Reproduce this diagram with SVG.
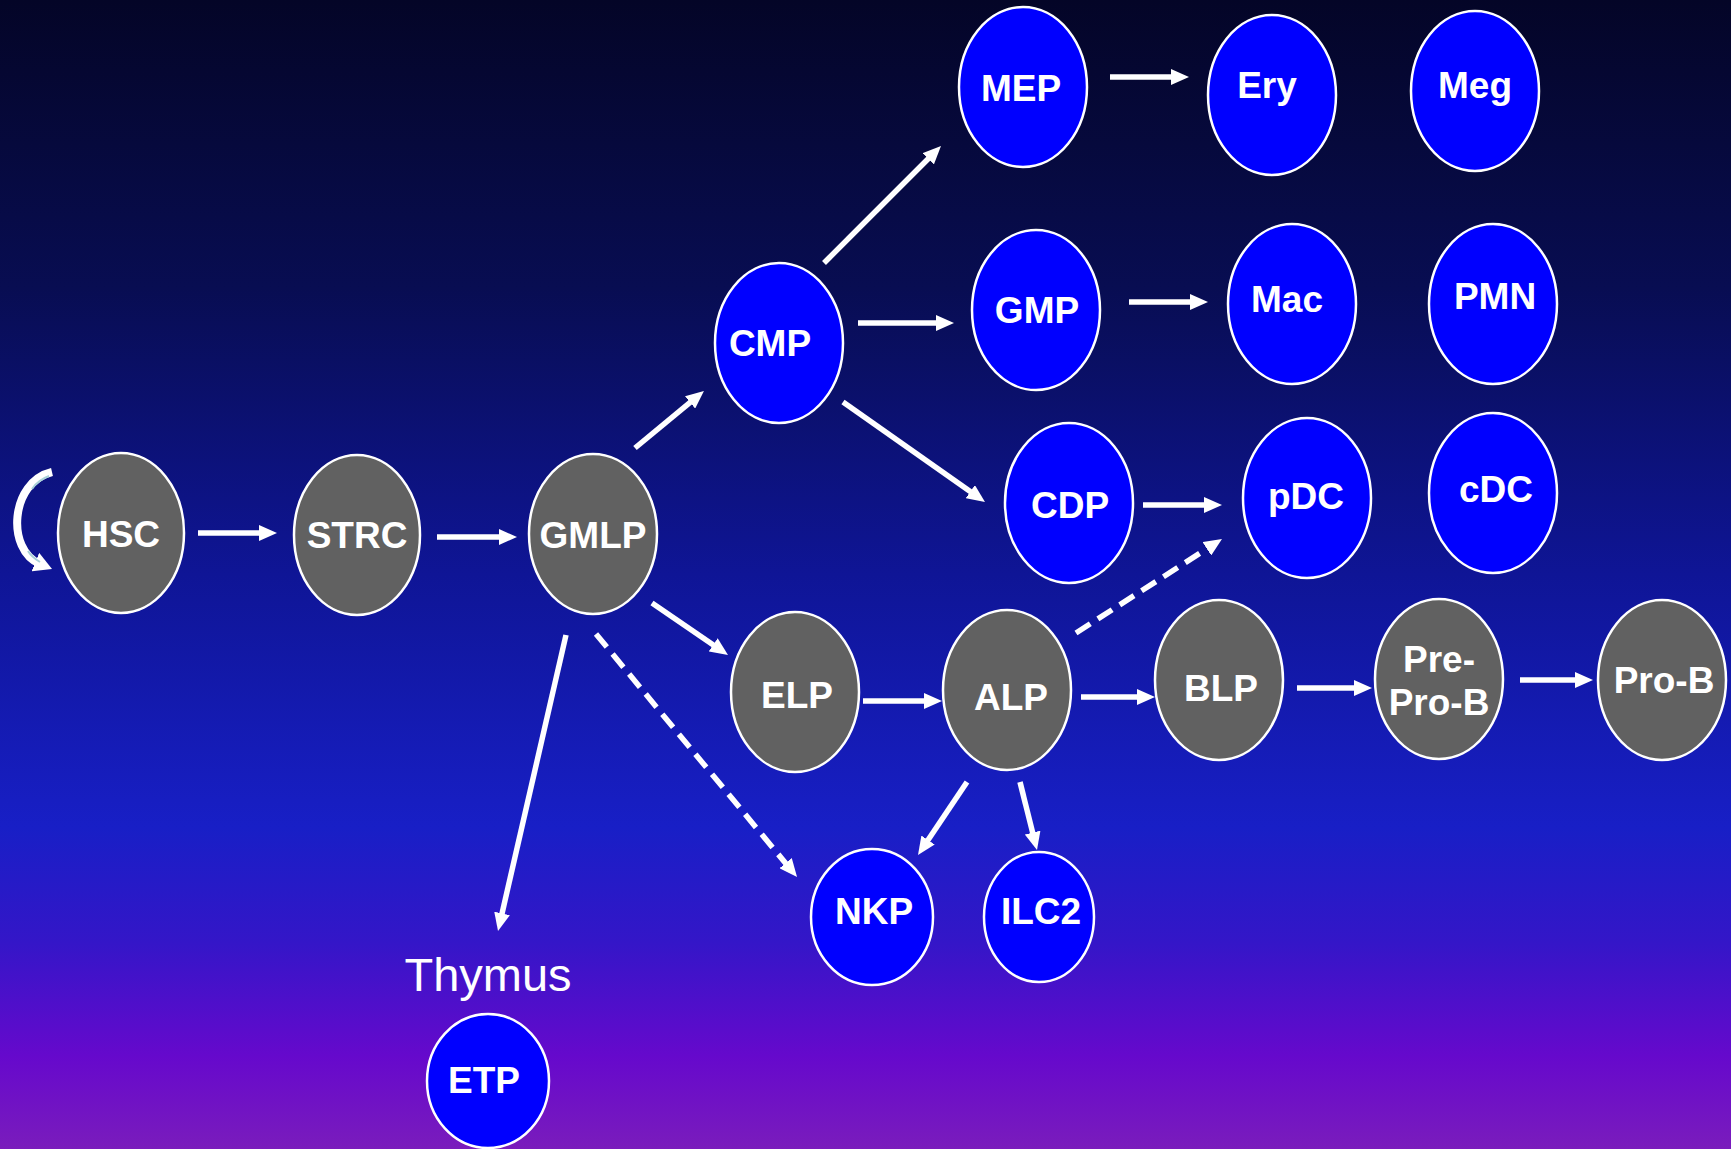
<svg xmlns="http://www.w3.org/2000/svg" width="1731" height="1149" viewBox="0 0 1731 1149">
<defs>
<linearGradient id="bg" x1="0" y1="0" x2="0" y2="1">
<stop offset="0" stop-color="#040527"/>
<stop offset="0.25" stop-color="#080d52"/>
<stop offset="0.5" stop-color="#0f1596"/>
<stop offset="0.72" stop-color="#181fc6"/>
<stop offset="0.82" stop-color="#3416c8"/>
<stop offset="0.92" stop-color="#6609cc"/>
<stop offset="1" stop-color="#7a1cbc"/>
</linearGradient>
<marker id="ah" viewBox="0 0 18 16" refX="6" refY="8" markerWidth="18" markerHeight="16" markerUnits="userSpaceOnUse" orient="auto">
<path d="M0,0 L18,8 L0,16 z" fill="#ffffff"/>
</marker>
<marker id="ahs" viewBox="0 0 18 20" refX="5" refY="10" markerWidth="18" markerHeight="20" markerUnits="userSpaceOnUse" orient="auto">
<path d="M0,0 L18,10 L0,20 z" fill="#ffffff"/>
</marker>
</defs>
<style>
.g{fill:#616161;stroke:#ffffff;stroke-width:2.5}
.b{fill:#0000ff;stroke:#ffffff;stroke-width:2.5}
.t{font-family:"Liberation Sans",Arial,Helvetica,sans-serif;font-weight:bold;font-size:37px;fill:#ffffff;text-anchor:middle}
.c{stroke:#ffffff;stroke-width:5.5;fill:none;marker-end:url(#ah)}
.d{stroke-dasharray:17 9}
</style>
<rect x="0" y="0" width="1731" height="1149" fill="url(#bg)"/>

<g id="connectors">
<line class="c" x1="198" y1="533" x2="265" y2="533"/>
<line class="c" x1="437" y1="537" x2="505" y2="537"/>
<line class="c" x1="635" y1="448" x2="694.7" y2="398.6"/>
<line class="c" x1="824" y1="263" x2="932.5" y2="154.5"/>
<line class="c" x1="858" y1="323" x2="942" y2="323"/>
<line class="c" x1="843" y1="402" x2="975.2" y2="495.1"/>
<line class="c" x1="1110" y1="77" x2="1177" y2="77"/>
<line class="c" x1="1129" y1="302" x2="1196" y2="302"/>
<line class="c" x1="1143" y1="505" x2="1210" y2="505"/>
<line class="c d" x1="1076" y1="633" x2="1211.9" y2="545.5"/>
<line class="c" x1="652" y1="603" x2="718.1" y2="648.2"/>
<line class="c" x1="566" y1="635" x2="500.7" y2="919.3"/>
<line class="c d" x1="596" y1="634" x2="789.4" y2="867.8"/>
<line class="c" x1="863" y1="701" x2="930" y2="701"/>
<line class="c" x1="1081" y1="697" x2="1143" y2="697"/>
<line class="c" x1="1297" y1="688" x2="1360" y2="688"/>
<line class="c" x1="1520" y1="680" x2="1581" y2="680"/>
<line class="c" x1="967" y1="782" x2="924.7" y2="845"/>
<line class="c" x1="1020" y1="782" x2="1034.1" y2="838.4"/>
<path d="M52,472 C10,482 6,550 40,564" stroke="#ffffff" stroke-width="8" fill="none" marker-end="url(#ahs)"/>
<path d="M49,476 C41,479 36,483 32,489" stroke="#a8d0d8" stroke-width="2" fill="none"/>
<path d="M28,551 C31,556 35,559 40,562" stroke="#a8d0d8" stroke-width="2" fill="none"/>
</g>

<g id="HSC"><ellipse class="g" cx="121" cy="533" rx="63" ry="80"/><text class="t" x="121" y="547">HSC</text></g>
<g id="STRC"><ellipse class="g" cx="357" cy="535" rx="63" ry="80"/><text class="t" x="357" y="548">STRC</text></g>
<g id="GMLP"><ellipse class="g" cx="593" cy="534" rx="64" ry="80"/><text class="t" x="593" y="548">GMLP</text></g>
<g id="CMP"><ellipse class="b" cx="779" cy="343" rx="64" ry="80"/><text class="t" x="770" y="356">CMP</text></g>
<g id="MEP"><ellipse class="b" cx="1023" cy="87" rx="64" ry="80"/><text class="t" x="1021" y="101">MEP</text></g>
<g id="GMP"><ellipse class="b" cx="1036" cy="310" rx="64" ry="80"/><text class="t" x="1037" y="323">GMP</text></g>
<g id="CDP"><ellipse class="b" cx="1069" cy="503" rx="64" ry="80"/><text class="t" x="1070" y="518">CDP</text></g>
<g id="Ery"><ellipse class="b" cx="1272" cy="95" rx="64" ry="80"/><text class="t" x="1267" y="98">Ery</text></g>
<g id="Meg"><ellipse class="b" cx="1475" cy="91" rx="64" ry="80"/><text class="t" x="1475" y="98">Meg</text></g>
<g id="Mac"><ellipse class="b" cx="1292" cy="304" rx="64" ry="80"/><text class="t" x="1287" y="312">Mac</text></g>
<g id="PMN"><ellipse class="b" cx="1493" cy="304" rx="64" ry="80"/><text class="t" x="1495" y="309">PMN</text></g>
<g id="pDC"><ellipse class="b" cx="1307" cy="498" rx="64" ry="80"/><text class="t" x="1306" y="509">pDC</text></g>
<g id="cDC"><ellipse class="b" cx="1493" cy="493" rx="64" ry="80"/><text class="t" x="1496" y="502">cDC</text></g>
<g id="ELP"><ellipse class="g" cx="795" cy="692" rx="64" ry="80"/><text class="t" x="797" y="708">ELP</text></g>
<g id="ALP"><ellipse class="g" cx="1007" cy="690" rx="64" ry="80"/><text class="t" x="1011" y="710">ALP</text></g>
<g id="BLP"><ellipse class="g" cx="1219" cy="680" rx="64" ry="80"/><text class="t" x="1221" y="701">BLP</text></g>
<g id="PreProB"><ellipse class="g" cx="1439" cy="679" rx="64" ry="80"/><text class="t" x="1439" y="672">Pre-</text><text class="t" x="1439" y="715">Pro-B</text></g>
<g id="ProB"><ellipse class="g" cx="1662" cy="680" rx="64" ry="80"/><text class="t" x="1664" y="693">Pro-B</text></g>
<g id="NKP"><ellipse class="b" cx="872" cy="917" rx="61" ry="68"/><text class="t" x="874" y="924">NKP</text></g>
<g id="ILC2"><ellipse class="b" cx="1039" cy="917" rx="55" ry="65"/><text class="t" x="1041" y="924">ILC2</text></g>
<g id="Thymus"><text x="488" y="991" font-family="'Liberation Sans',Arial,sans-serif" font-size="47" fill="#ffffff" text-anchor="middle">Thymus</text></g>
<g id="ETP"><ellipse class="b" cx="488" cy="1081" rx="61" ry="67"/><text class="t" x="484" y="1093">ETP</text></g>
</svg>
